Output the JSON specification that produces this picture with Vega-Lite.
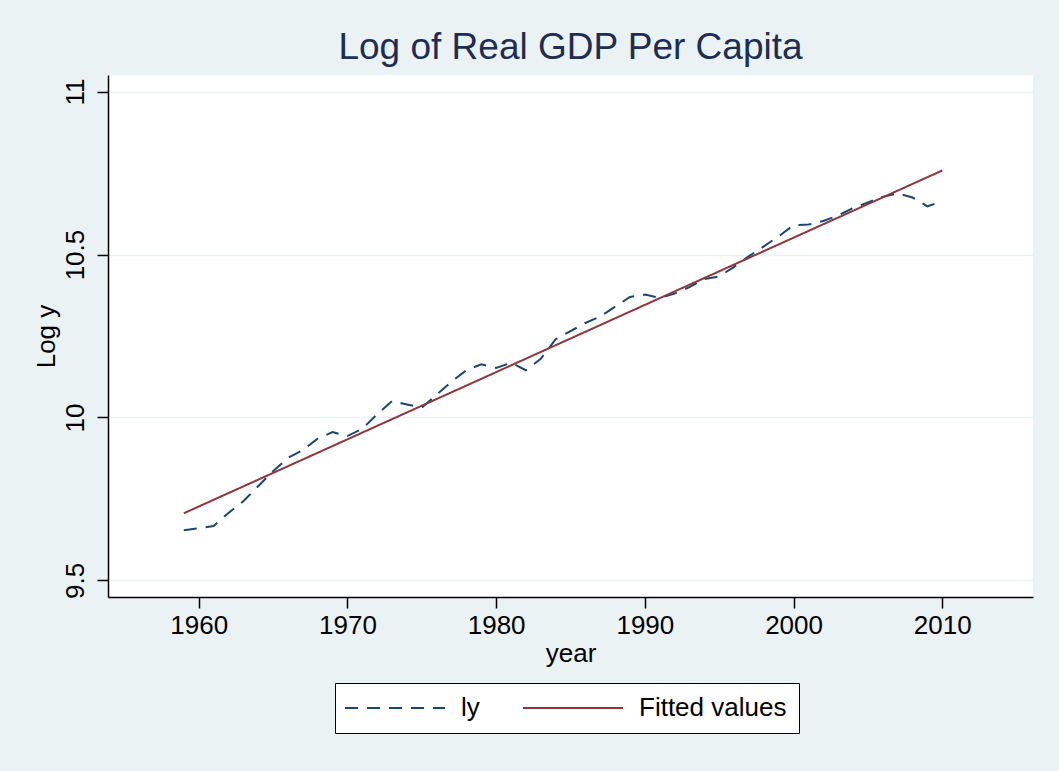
{
  "$schema": "https://vega.github.io/schema/vega-lite/v6.json",
  "autosize": {"type": "none"},
  "width": 925,
  "height": 522,
  "padding": {"left": 108, "top": 75, "right": 26, "bottom": 174},
  "background": "#EAF2F3",
  "title": {
    "text": "Log of Real GDP Per Capita",
    "fontSize": 37,
    "font": "Liberation Sans",
    "fontWeight": "normal",
    "color": "#1E2D53",
    "anchor": "middle",
    "offset": 8
  },
  "config": {
    "font": "Liberation Sans",
    "view": {"fill": "white", "stroke": null},
    "axis": {
      "labelFont": "Liberation Sans",
      "titleFont": "Liberation Sans",
      "labelFontSize": 26,
      "titleFontSize": 26,
      "titleFontWeight": "normal",
      "labelColor": "black",
      "titleColor": "black",
      "domainColor": "black",
      "domainWidth": 1.5,
      "tickColor": "black",
      "tickWidth": 1.5,
      "tickSize": 11,
      "gridColor": "#EAF2F3",
      "gridWidth": 1.5
    }
  },
  "data": {
    "values": [
      {"year": 1959, "value": 9.654, "series": "ly"},
      {"year": 1960, "value": 9.660, "series": "ly"},
      {"year": 1961, "value": 9.667, "series": "ly"},
      {"year": 1962, "value": 9.707, "series": "ly"},
      {"year": 1963, "value": 9.743, "series": "ly"},
      {"year": 1964, "value": 9.789, "series": "ly"},
      {"year": 1965, "value": 9.835, "series": "ly"},
      {"year": 1966, "value": 9.876, "series": "ly"},
      {"year": 1967, "value": 9.900, "series": "ly"},
      {"year": 1968, "value": 9.935, "series": "ly"},
      {"year": 1969, "value": 9.955, "series": "ly"},
      {"year": 1970, "value": 9.943, "series": "ly"},
      {"year": 1971, "value": 9.965, "series": "ly"},
      {"year": 1972, "value": 10.010, "series": "ly"},
      {"year": 1973, "value": 10.050, "series": "ly"},
      {"year": 1974, "value": 10.040, "series": "ly"},
      {"year": 1975, "value": 10.030, "series": "ly"},
      {"year": 1976, "value": 10.070, "series": "ly"},
      {"year": 1977, "value": 10.110, "series": "ly"},
      {"year": 1978, "value": 10.145, "series": "ly"},
      {"year": 1979, "value": 10.163, "series": "ly"},
      {"year": 1980, "value": 10.152, "series": "ly"},
      {"year": 1981, "value": 10.168, "series": "ly"},
      {"year": 1982, "value": 10.145, "series": "ly"},
      {"year": 1983, "value": 10.180, "series": "ly"},
      {"year": 1984, "value": 10.240, "series": "ly"},
      {"year": 1985, "value": 10.265, "series": "ly"},
      {"year": 1986, "value": 10.290, "series": "ly"},
      {"year": 1987, "value": 10.310, "series": "ly"},
      {"year": 1988, "value": 10.340, "series": "ly"},
      {"year": 1989, "value": 10.370, "series": "ly"},
      {"year": 1990, "value": 10.377, "series": "ly"},
      {"year": 1991, "value": 10.367, "series": "ly"},
      {"year": 1992, "value": 10.380, "series": "ly"},
      {"year": 1993, "value": 10.400, "series": "ly"},
      {"year": 1994, "value": 10.425, "series": "ly"},
      {"year": 1995, "value": 10.433, "series": "ly"},
      {"year": 1996, "value": 10.462, "series": "ly"},
      {"year": 1997, "value": 10.495, "series": "ly"},
      {"year": 1998, "value": 10.525, "series": "ly"},
      {"year": 1999, "value": 10.556, "series": "ly"},
      {"year": 2000, "value": 10.590, "series": "ly"},
      {"year": 2001, "value": 10.592, "series": "ly"},
      {"year": 2002, "value": 10.603, "series": "ly"},
      {"year": 2003, "value": 10.620, "series": "ly"},
      {"year": 2004, "value": 10.643, "series": "ly"},
      {"year": 2005, "value": 10.660, "series": "ly"},
      {"year": 2006, "value": 10.677, "series": "ly"},
      {"year": 2007, "value": 10.688, "series": "ly"},
      {"year": 2008, "value": 10.675, "series": "ly"},
      {"year": 2009, "value": 10.648, "series": "ly"},
      {"year": 2010, "value": 10.664, "series": "ly"},
      {"year": 1959, "value": 9.706, "series": "Fitted values"},
      {"year": 2010, "value": 10.758, "series": "Fitted values"}
    ]
  },
  "mark": {"type": "line", "strokeWidth": 2},
  "encoding": {
    "x": {
      "field": "year",
      "type": "quantitative",
      "scale": {"domain": [1953.9, 2016.1], "nice": false, "zero": false},
      "axis": {
        "title": "year",
        "values": [1960, 1970, 1980, 1990, 2000, 2010],
        "format": "d",
        "grid": false,
        "labelPadding": 4,
        "titlePadding": 2
      }
    },
    "y": {
      "field": "value",
      "type": "quantitative",
      "scale": {"domain": [9.449, 11.051], "nice": false, "zero": false},
      "axis": {
        "title": "Log y",
        "values": [9.5, 10, 10.5, 11],
        "format": "~g",
        "grid": true,
        "labelAngle": -90,
        "labelAlign": "center",
        "labelBaseline": "alphabetic",
        "labelPadding": 14,
        "titlePadding": 3
      }
    },
    "color": {
      "field": "series",
      "type": "nominal",
      "scale": {"domain": ["ly", "Fitted values"], "range": ["#1A476F", "#90353B"]},
      "legend": {
        "title": null,
        "orient": "none",
        "legendX": 227,
        "legendY": 608,
        "direction": "horizontal",
        "fillColor": "white",
        "strokeColor": "black",
        "padding": 12,
        "symbolType": "M-1.5,0L8.5,0",
        "symbolSize": 400,
        "symbolStrokeWidth": 2,
        "labelFontSize": 26,
        "labelFont": "Liberation Sans",
        "labelColor": "black",
        "labelOffset": 88,
        "columnPadding": 39
      }
    },
    "strokeDash": {
      "field": "series",
      "type": "nominal",
      "scale": {"domain": ["ly", "Fitted values"], "range": [[13, 9], [1, 0]]},
      "legend": null
    }
  }
}
